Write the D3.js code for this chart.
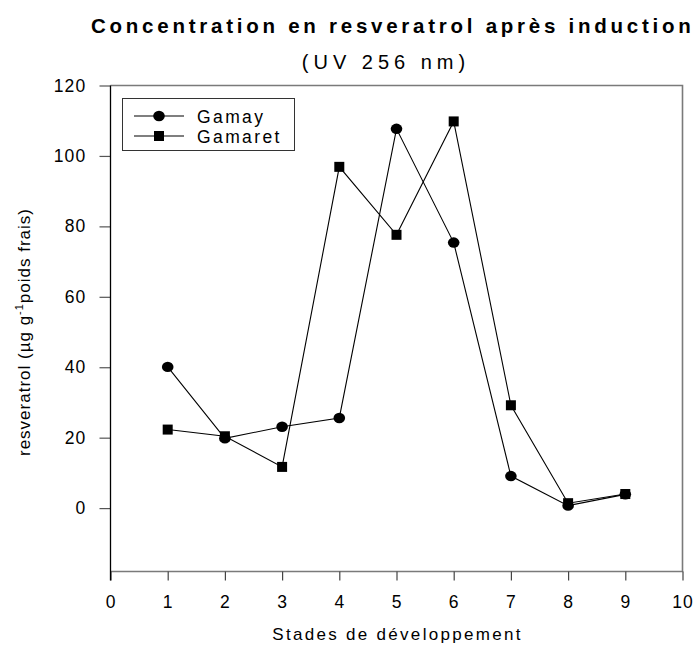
<!DOCTYPE html>
<html>
<head>
<meta charset="utf-8">
<script src="https://cdn.jsdelivr.net/npm/d3@7"></script>
<style>
  html, body { margin: 0; padding: 0; background: #fff; }
  svg { display: block; font-family: "Liberation Sans", Arial, sans-serif; }
</style>
</head>
<body>
<svg id="chart" width="696" height="646"></svg>
<script>
// Developmental stages (x) and resveratrol content per cultivar
const stages = [1, 2, 3, 4, 5, 6, 7, 8, 9];
const gamay = [40.1, 19.8, 23.1, 25.6, 107.7, 75.4, 9.1, 0.7, 3.9];
const gamaret = [22.3, 20.4, 11.7, 96.9, 77.6, 109.8, 29.2, 1.4, 4.0];
const xTicks = [0, 1, 2, 3, 4, 5, 6, 7, 8, 9, 10];
const yTicks = [0, 20, 40, 60, 80, 100, 120];
const seriesNames = ["Gamay", "Gamaret"];

const svg = d3.select("#chart");
const plotL = 110.5, plotR = 682.5, plotT = 85.5, plotB = 571.5;

const x = d3.scaleLinear().domain([0, 10]).range([plotL, plotR]);
const y = d3.scaleLinear().domain([-18, 120]).range([plotB, plotT]);

// Plot frame: grey top/right/bottom, black left axis
svg.append("path")
  .attr("d", `M${plotL},${plotT}H${plotR}V${plotB}H${plotL}`)
  .attr("fill", "none").attr("stroke", "#7a7a7a").attr("stroke-width", 1.6);

// X axis ticks and labels
const xAxis = svg.append("g").attr("transform", `translate(0,${plotB})`)
  .call(d3.axisBottom(x).tickValues(xTicks).tickSize(9).tickSizeOuter(0).tickPadding(15));
xAxis.select(".domain").remove();
xAxis.selectAll(".tick line").attr("stroke", "#444").attr("stroke-width", 1.2);
xAxis.selectAll("text").attr("font-size", 17.5).attr("letter-spacing", 1).attr("fill", "#000")
  .attr("font-family", "Liberation Sans, Arial, sans-serif");

// Y axis
const yAxis = svg.append("g").attr("transform", `translate(${plotL},0)`)
  .call(d3.axisLeft(y).tickValues(yTicks).tickSize(11).tickSizeOuter(0).tickPadding(13));
yAxis.select(".domain").remove();
yAxis.selectAll(".tick line").attr("stroke", "#555").attr("stroke-width", 1.2);
yAxis.selectAll("text").attr("font-size", 17.5).attr("letter-spacing", 1.2).attr("fill", "#000")
  .attr("font-family", "Liberation Sans, Arial, sans-serif");

svg.append("line").attr("x1", plotL).attr("x2", plotL).attr("y1", plotT).attr("y2", plotB + 9)
  .attr("stroke", "#000").attr("stroke-width", 1.3);

// Series lines and markers
const line = d3.line().x((d, i) => x(stages[i])).y(d => y(d));
[gamay, gamaret].forEach(vals => {
  svg.append("path").datum(vals).attr("d", line)
    .attr("fill", "none").attr("stroke", "#000").attr("stroke-width", 1.1);
});

svg.append("g").selectAll("rect").data(gamaret).join("rect")
  .attr("x", (d, i) => x(stages[i]) - 5).attr("y", d => y(d) - 5)
  .attr("width", 10).attr("height", 10).attr("fill", "#000");

svg.append("g").selectAll("ellipse").data(gamay).join("ellipse")
  .attr("cx", (d, i) => x(stages[i])).attr("cy", d => y(d))
  .attr("rx", 5.8).attr("ry", 5.2).attr("fill", "#000");

// Legend
const lg = svg.append("g");
lg.append("rect").attr("x", 122.5).attr("y", 98.5).attr("width", 172).attr("height", 52)
  .attr("fill", "#fff").attr("stroke", "#333").attr("stroke-width", 1);
const rows = [116, 136];
rows.forEach((ry, k) => {
  lg.append("line").attr("x1", 134).attr("x2", 184).attr("y1", ry).attr("y2", ry)
    .attr("stroke", "#000").attr("stroke-width", 1.1);
  if (k === 0) {
    lg.append("ellipse").attr("cx", 159).attr("cy", ry).attr("rx", 5.8).attr("ry", 5.2).attr("fill", "#000");
  } else {
    lg.append("rect").attr("x", 154).attr("y", ry - 5).attr("width", 10).attr("height", 10).attr("fill", "#000");
  }
  lg.append("text").attr("x", 197).attr("y", ry + 6.5).attr("font-size", 17.5)
    .attr("letter-spacing", 2.4).text(seriesNames[k]);
});

// Titles
svg.append("text").attr("x", 91).attr("y", 33).attr("font-size", 20.5).attr("font-weight", "bold")
  .attr("letter-spacing", 3.75).text("Concentration en resveratrol après induction");
svg.append("text").attr("x", 386).attr("y", 69).attr("text-anchor", "middle").attr("font-size", 20)
  .attr("letter-spacing", 5).text("(UV 256 nm)");

svg.append("text").attr("x", (plotL + plotR) / 2 + 1).attr("y", 640).attr("text-anchor", "middle")
  .attr("font-size", 17).attr("letter-spacing", 2.3).text("Stades de développement");

// Y axis title with superscript
const yt = svg.append("text").attr("transform", `translate(30,332) rotate(-90)`)
  .attr("text-anchor", "middle").attr("font-size", 17).attr("letter-spacing", 1);
yt.append("tspan").text("resveratrol (µg g");
yt.append("tspan").attr("dy", -7).attr("font-size", 11).text("-1");
yt.append("tspan").attr("dy", 7).text("poids frais)");
</script>
</body>
</html>
